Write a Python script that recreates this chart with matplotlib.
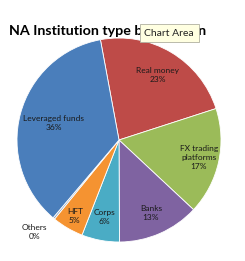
import numpy as np
import matplotlib
matplotlib.use("Agg")
import matplotlib.pyplot as plt

# data, clockwise from the first slice
categories = ["Real money", "FX trading\nplatforms", "Banks", "Corps", "HFT", "Others", "Leveraged funds"]
shares = [23, 17, 13, 6, 5, 0.3, 36]
colors = ["#BE4B48", "#9BBB59", "#7F63A1", "#4AACC5", "#F59331", "#8FA8C8", "#4A7EBB"]
# how far out each label sits (fraction of radius)
label_r = [0.74, 0.80, 0.78, 0.77, 0.86, 1.12, 0.66]

W, H = 245, 261
fig = plt.figure(figsize=(W / 100, H / 100), dpi=100)
fig.patch.set_facecolor("white")

cx, cy, r = 119, 140, 102
ax = fig.add_axes([(cx - r) / W, (H - cy - r) / H, 2 * r / W, 2 * r / H])
ax.set_aspect("equal")
ax.axis("off")

wedges, _ = ax.pie(shares, colors=colors, startangle=100.5, counterclock=False,
                   wedgeprops=dict(edgecolor="white", linewidth=0.6))
ax.set_xlim(-1, 1)
ax.set_ylim(-1, 1)

total = sum(shares)
for w, name, v, lr in zip(wedges, categories, shares, label_r):
    mid = np.deg2rad((w.theta1 + w.theta2) / 2)
    x, y = lr * np.cos(mid), lr * np.sin(mid)
    if name == "Others":
        x, y = -0.83, -0.9
    ax.text(x, y, f"{name}\n{round(v / total * 100)}%", ha="center", va="center",
            fontsize=6.0, color="#1a1a1a", family="Lato", linespacing=1.3, clip_on=False)

fig.text(9 / W, 1 - 31 / H, "NA Institution type breakdown", fontsize=10.3,
         fontweight="bold", family="Lato", ha="left", va="center", color="black")

# the hover tooltip seen in the screenshot
fig.text(169 / W, 1 - 33 / H, "Chart Area", fontsize=7.5, family="Lato",
         ha="center", va="center", color="#222222",
         bbox=dict(boxstyle="square,pad=0.45", facecolor="#FFFFE1", edgecolor="#B0B0A0", linewidth=0.6))

fig.savefig("out.png", dpi=100, facecolor="white")
